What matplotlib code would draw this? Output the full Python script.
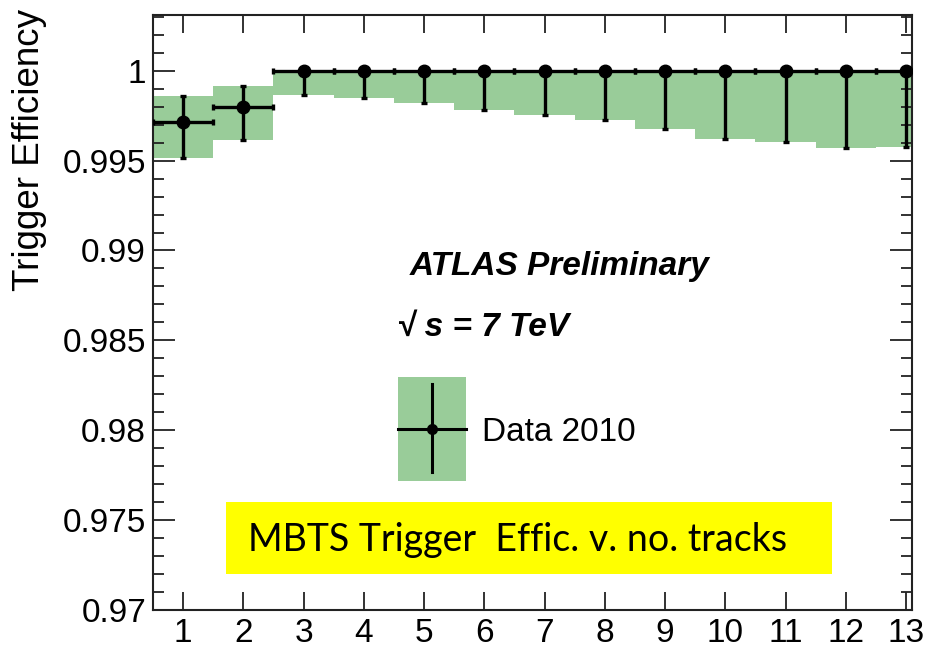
import matplotlib
matplotlib.use("Agg")
import matplotlib.pyplot as plt
from matplotlib.patches import Rectangle
from matplotlib.ticker import MultipleLocator, FixedLocator, FuncFormatter

plt.rcParams['font.family'] = ['Liberation Sans', 'DejaVu Sans']

# number of tracks bins and measured efficiency
n_tracks = [1, 2, 3, 4, 5, 6, 7, 8, 9, 10, 11, 12, 13]
eff = [0.99713, 0.99799, 1.0, 1.0, 1.0, 1.0, 1.0, 1.0, 1.0, 1.0, 1.0, 1.0, 1.0]
err_lo = [0.00198, 0.00186, 0.00136, 0.00153, 0.00177, 0.00218, 0.00248,
          0.00276, 0.00326, 0.00382, 0.00397, 0.00428, 0.00425]
err_hi = [0.00144, 0.00117, 0, 0, 0, 0, 0, 0, 0, 0, 0, 0, 0]

y_ticks = [0.97, 0.975, 0.98, 0.985, 0.99, 0.995, 1.0]
x_ticks = list(range(1, 14))

green = '#99cc99'

fig = plt.figure(figsize=(9.32, 6.49), dpi=100)
ax = fig.add_axes([153 / 932, 1 - 610 / 649, 759 / 932, 595 / 649])

# uncertainty band (one box per bin)
lows = [e - l for e, l in zip(eff, err_lo)]
heights = [l + h for l, h in zip(err_lo, err_hi)]
ax.bar(n_tracks, heights, bottom=lows, width=1.0, color=green, edgecolor='none', zorder=1)

# data points
ax.errorbar(n_tracks, eff, xerr=0.5, yerr=[err_lo, err_hi], fmt='o', color='k',
            ms=9, elinewidth=2.4, capsize=2.2, capthick=2.4, zorder=3, clip_on=True)

ax.set_xlim(0.5, 13.1)
ax.set_ylim(0.97, 1.0031)

ax.xaxis.set_major_locator(FixedLocator(x_ticks))
ax.yaxis.set_major_locator(FixedLocator(y_ticks))
ax.yaxis.set_minor_locator(MultipleLocator(0.001))
ax.yaxis.set_major_formatter(FuncFormatter(lambda v, p: '%g' % round(v, 4)))

ax.tick_params(axis='both', which='both', direction='in', top=True, right=True,
               labelsize=24, width=1.3, color='#222222')
ax.tick_params(axis='x', which='major', length=13, pad=6)
ax.tick_params(axis='y', which='major', length=16, pad=5)
ax.tick_params(axis='y', which='minor', length=8)
for sp in ax.spines.values():
    sp.set_linewidth(1.5)
    sp.set_color('#222222')

fig.text(30 / 932, 1 - 9 / 649, 'Trigger Efficiency', rotation=90,
         ha='center', va='top', fontsize=26.5)

# labels inside the plot
ax.text(0.3386, 0.5765, 'ATLAS Preliminary', transform=ax.transAxes,
        fontsize=24, fontweight='bold', fontstyle='italic', va='center', ha='left')
ax.text(0.3215, 0.4756, '\u221a s = 7 TeV', transform=ax.transAxes,
        fontsize=24, fontweight='bold', fontstyle='italic', va='center', ha='left')

# hand-made legend entry
ax.add_patch(Rectangle((0.3228, 0.2168), 0.0896, 0.1748, transform=ax.transAxes,
                       facecolor=green, edgecolor='none', zorder=2))
ax.plot([0.3228, 0.4124], [0.3042, 0.3042], color='k', lw=2.2, transform=ax.transAxes, zorder=3)
ax.plot([0.3676, 0.3676], [0.2320, 0.3800], color='k', lw=2.2, transform=ax.transAxes, zorder=3)
ax.plot([0.3676], [0.3042], 'o', color='k', ms=7, transform=ax.transAxes, zorder=4)
ax.text(0.4335, 0.299, 'Data 2010', transform=ax.transAxes, fontsize=24,
        va='center', ha='left')

# yellow annotation box
fig.patches.append(Rectangle((226 / 932, 1 - 574 / 649), 606 / 932, 72 / 649,
                             transform=fig.transFigure, facecolor='#ffff00',
                             edgecolor='none', zorder=5))
fig.text(248 / 932, 1 - 540 / 649, 'MBTS Trigger  Effic. v. no. tracks',
         family=['Lato', 'DejaVu Sans'], fontsize=27, va='center', ha='left', zorder=6)

fig.savefig('out.png', dpi=100)
